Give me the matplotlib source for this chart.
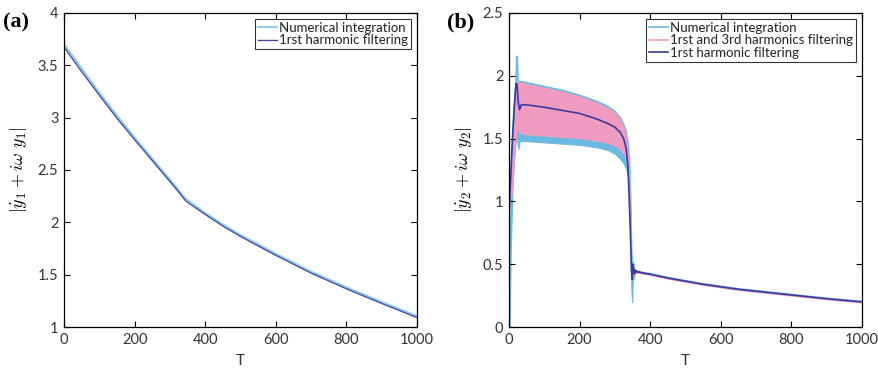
import matplotlib
matplotlib.use("Agg")
import matplotlib.pyplot as plt
import numpy as np
from matplotlib.lines import Line2D

# ---------- Panel (a) data ----------
T_a = [0, 50, 100, 150, 200, 250, 300, 320, 335, 345, 355, 370, 400, 450, 500, 600, 700, 800, 900, 1000]
num_a = [3.705, 3.47, 3.24, 3.02, 2.81, 2.61, 2.41, 2.33, 2.265, 2.225, 2.20, 2.165, 2.09, 1.98, 1.88, 1.70, 1.53, 1.38, 1.24, 1.105]
h1_a = [3.675, 3.44, 3.215, 2.995, 2.79, 2.59, 2.39, 2.31, 2.245, 2.205, 2.18, 2.145, 2.075, 1.965, 1.865, 1.685, 1.515, 1.365, 1.225, 1.09]

# ---------- Panel (b) data ----------
T_band = [0, 2, 5, 10, 15, 18, 20, 23, 25, 28, 30, 35, 50, 100, 150, 200, 250, 280, 300, 315, 325, 332, 337, 341, 344, 347, 349, 351, 353, 356, 360]
num_up = [0.0, 1.0, 1.25, 1.6, 1.85, 1.95, 2.16, 2.16, 1.96, 1.96, 1.96, 1.96, 1.95, 1.92, 1.89, 1.85, 1.80, 1.76, 1.72, 1.67, 1.61, 1.55, 1.46, 1.32, 1.05, 0.60, 0.52, 0.52, 0.50, 0.46, 0.44]
num_lo = [0.0, 0.0, 0.6, 1.1, 1.35, 1.45, 1.50, 1.50, 1.45, 1.42, 1.48, 1.48, 1.48, 1.47, 1.46, 1.45, 1.43, 1.41, 1.38, 1.34, 1.30, 1.26, 1.20, 1.05, 0.70, 0.30, 0.20, 0.40, 0.38, 0.42, 0.43]
h13_up = [0.86, 0.95, 1.15, 1.40, 1.70, 1.85, 1.92, 1.98, 1.96, 1.95, 1.95, 1.95, 1.94, 1.91, 1.88, 1.84, 1.79, 1.75, 1.71, 1.66, 1.60, 1.53, 1.43, 1.28, 1.00, 0.55, 0.46, 0.47, 0.46, 0.45, 0.44]
h13_lo = [0.86, 0.90, 1.00, 1.10, 1.30, 1.45, 1.50, 1.55, 1.57, 1.55, 1.54, 1.54, 1.53, 1.52, 1.51, 1.50, 1.48, 1.46, 1.44, 1.41, 1.37, 1.33, 1.27, 1.12, 0.80, 0.40, 0.38, 0.40, 0.41, 0.42, 0.43]

T_h1 = [0, 5, 10, 15, 20, 23, 26, 30, 35, 40, 60, 100, 150, 200, 250, 280, 300, 315, 325, 332, 337, 341, 344, 347, 349, 351, 353, 355, 357, 360, 363, 370]
h1_b = [0.88, 1.20, 1.50, 1.75, 1.94, 1.93, 1.80, 1.73, 1.77, 1.77, 1.765, 1.75, 1.725, 1.70, 1.655, 1.62, 1.59, 1.55, 1.50, 1.42, 1.28, 1.00, 0.75, 0.45, 0.38, 0.50, 0.42, 0.46, 0.43, 0.45, 0.44, 0.44]

T_tail = [360, 400, 450, 500, 550, 600, 650, 700, 750, 800, 850, 900, 950, 1000]
tail_b = [0.44, 0.42, 0.39, 0.365, 0.34, 0.32, 0.30, 0.285, 0.27, 0.255, 0.24, 0.225, 0.212, 0.20]

c_num = "#6cb8e0"
c_pink = "#f09cc1"
c_h1 = "#3a3aa0"
c_num_a = "#84cbee"
c_h1_a = "#4a4aa0"

plt.rcParams['font.family'] = ['Lato', 'DejaVu Sans']
plt.rcParams['mathtext.fontset'] = 'cm'

fig = plt.figure(figsize=(8.79, 3.70), dpi=100)
ax1 = fig.add_axes([0.0728, 0.1162, 0.4016, 0.8487])
ax2 = fig.add_axes([0.5790, 0.1162, 0.4016, 0.8487])

def style(ax):
    ax.tick_params(direction='in', top=True, right=True, labelsize=10.5, length=4, width=0.8,
                   colors='black', labelcolor='#333333', pad=4)
    for s in ax.spines.values():
        s.set_linewidth(0.9)
    ax.set_xlim(0, 1000)
    ax.set_xticks([0, 200, 400, 600, 800, 1000])
    ax.set_xlabel('T', fontsize=11, color='#333333', labelpad=5)

def make_legend(ax, handles, labels):
    leg = ax.legend(handles, labels, loc='upper right', fontsize=9.5, frameon=True, fancybox=False,
                    edgecolor='black', handlelength=1.5, handletextpad=0.15, borderpad=0.2,
                    labelspacing=0.05, borderaxespad=0.45)
    leg.get_frame().set_linewidth(0.8)
    for t in leg.get_texts():
        t.set_color('#222222')
    return leg

# Panel (a)
l1, = ax1.plot(T_a, num_a, color=c_num_a, lw=1.3)
l2, = ax1.plot(T_a, h1_a, color=c_h1_a, lw=1.0)
style(ax1)
ax1.set_ylim(1, 4)
ax1.set_yticks([1, 1.5, 2, 2.5, 3, 3.5, 4])
ax1.set_yticklabels(['1', '1.5', '2', '2.5', '3', '3.5', '4'])
ax1.set_ylabel(r'$|\dot{y}_1 + i\omega\ y_1|$', fontsize=13, labelpad=6)
make_legend(ax1, [l1, l2], ['Numerical integration', '1rst harmonic filtering'])
fig.text(0.003, 0.925, '(a)', fontsize=16, fontweight='bold', family='Liberation Serif')

# Panel (b)
ax2.fill_between(T_band, num_lo, num_up, color=c_num, lw=0.8, edgecolor=c_num)
ax2.fill_between(T_band, h13_lo, h13_up, color=c_pink, lw=0.0)
ax2.plot(T_tail, np.array(tail_b) + 0.004, color=c_num, lw=1.2)
ax2.plot(T_tail, np.array(tail_b) - 0.006, color=c_pink, lw=1.2)
ax2.plot(T_h1, h1_b, color=c_h1, lw=1.2)
ax2.plot(T_tail, tail_b, color=c_h1, lw=1.2)
handles = [Line2D([], [], color=c_num, lw=1.2), Line2D([], [], color=c_pink, lw=1.2), Line2D([], [], color=c_h1, lw=1.2)]
labels = ['Numerical integration', '1rst and 3rd harmonics filtering', '1rst harmonic filtering']
style(ax2)
ax2.set_ylim(0, 2.5)
ax2.set_yticks([0, 0.5, 1, 1.5, 2, 2.5])
ax2.set_yticklabels(['0', '0.5', '1', '1.5', '2', '2.5'])
ax2.set_ylabel(r'$|\dot{y}_2 + i\omega\ y_2|$', fontsize=13, labelpad=6)
make_legend(ax2, handles, labels)
fig.text(0.508, 0.925, '(b)', fontsize=16, fontweight='bold', family='Liberation Serif')

fig.savefig('out.png', dpi=100)
